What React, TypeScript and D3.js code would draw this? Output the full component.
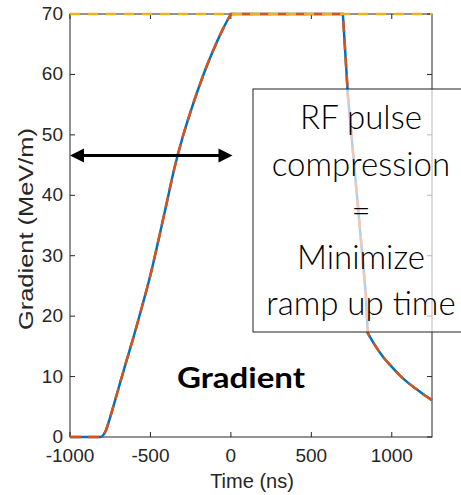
import React from "react";
import { scaleLinear, line, curveMonotoneX } from "d3";

// gradient waveform (ns, MeV/m): ramp, flat top, compressed-pulse drop, decay
const rampTime = [
  -1000, -950, -900, -850, -810, -780, -750, -700, -650, -600, -550, -500,
  -450, -400, -350, -300, -250, -200, -150, -100, -50, 0,
];
const rampGradient = [
  0, 0, 0, 0, 0, 0.9, 3.3, 7.9, 12.5, 17.0, 21.8, 26.8,
  32.6, 38.6, 44.6, 49.6, 53.9, 57.8, 61.4, 64.6, 67.5, 70,
];
const flatTime = [0, 696, 728, 780, 838, 851];
const flatGradient = [70, 70, 56.3, 41, 23.8, 17.2];
const decayTime = [851, 900, 950, 1000, 1050, 1100, 1150, 1200, 1250];
const decayGradient = [17.2, 15.0, 13.1, 11.6, 10.2, 9.0, 8.0, 7.0, 6.1];

const maxGradient = 70;
const xTicks = [-1000, -500, 0, 500, 1000];
const yTicks = [0, 10, 20, 30, 40, 50, 60, 70];
const arrowSpan = [-1000, 10];
const arrowLevel = 46.6;
const boxLines = ["RF pulse", "compression", "=", "Minimize", "ramp up time"];

const W = 461;
const H = 495;
const m = { left: 70, right: 432, top: 14, bottom: 437 };
const axisFont = "'Liberation Sans', Arial, Helvetica, sans-serif";
const noteFont = "Lato, 'Open Sans', sans-serif";
const axisColor = "#262626";

export default function App() {
  const x = scaleLinear().domain([-1000, 1250]).range([m.left, m.right]);
  const y = scaleLinear().domain([0, 70]).range([m.bottom, m.top]);

  const smooth = line<[number, number]>()
    .x((d) => x(d[0]))
    .y((d) => y(d[1]))
    .curve(curveMonotoneX);
  const straight = line<[number, number]>()
    .x((d) => x(d[0]))
    .y((d) => y(d[1]));

  const zip = (ts: number[], vs: number[]) => ts.map((t, i) => [t, vs[i]] as [number, number]);
  const path =
    (smooth(zip(rampTime, rampGradient)) as string) +
    (straight(zip(flatTime, flatGradient)) as string).replace(/^M/, "L") +
    (smooth(zip(decayTime, decayGradient)) as string).replace(/^M/, "L");

  const ay = y(arrowLevel);
  const ax0 = x(arrowSpan[0]);
  const ax1 = x(arrowSpan[1]);
  const head = 14;
  const hw = 7;

  const box = { x: 253, y: 89, w: 220, h: 243 };

  return (
    <div style={{ position: "fixed", left: 0, top: 0 }}>
      <svg width={W} height={H} style={{ display: "block", background: "#fff" }}>
        {/* axes box */}
        <rect x={m.left} y={m.top} width={m.right - m.left} height={m.bottom - m.top}
          fill="none" stroke={axisColor} strokeWidth={1} />
        {xTicks.map((t) => (
          <g key={"x" + t}>
            <line x1={x(t)} x2={x(t)} y1={m.bottom} y2={m.bottom - 5} stroke={axisColor} />
            <line x1={x(t)} x2={x(t)} y1={m.top} y2={m.top + 5} stroke={axisColor} />
            <text x={x(t)} y={m.bottom + 25} textAnchor="middle" fontFamily={axisFont}
              fontSize={19} fill={axisColor}>{t}</text>
          </g>
        ))}
        {yTicks.map((v) => (
          <g key={"y" + v}>
            <line x1={m.left} x2={m.left + 5} y1={y(v)} y2={y(v)} stroke={axisColor} />
            <line x1={m.right} x2={m.right - 5} y1={y(v)} y2={y(v)} stroke={axisColor} />
            <text x={m.left - 7} y={y(v) + 6} textAnchor="end" fontFamily={axisFont}
              fontSize={19} fill={axisColor}>{v}</text>
          </g>
        ))}
        <text x={252} y={488} textAnchor="middle" fontFamily={axisFont} fontSize={20}
          fill={axisColor}>Time (ns)</text>
        <text transform="translate(33,229) rotate(-90)" textAnchor="middle" fontFamily={axisFont}
          fontSize={20} fill={axisColor} textLength={202} lengthAdjust="spacingAndGlyphs">
          Gradient (MeV/m)
        </text>

        {/* curves */}
        <path d={path} fill="none" stroke="#0072BD" strokeWidth={2.5} />
        <path d={path} fill="none" stroke="#D95319" strokeWidth={2.5} strokeDasharray="11,7" />
        <line x1={x(-1000)} x2={x(1250)} y1={y(maxGradient)} y2={y(maxGradient)}
          stroke="#EDB120" strokeWidth={2.5} strokeDasharray="10,8" />

        {/* double arrow */}
        <line x1={ax0 + head - 2} x2={ax1 - head + 2} y1={ay} y2={ay} stroke="#000" strokeWidth={3} />
        <polygon points={`${ax0},${ay} ${ax0 + head},${ay - hw} ${ax0 + head},${ay + hw}`} fill="#000" />
        <polygon points={`${ax1},${ay} ${ax1 - head},${ay - hw} ${ax1 - head},${ay + hw}`} fill="#000" />

        <text x={241} y={388} textAnchor="middle" fontFamily={noteFont} fontWeight={700}
          fontSize={29} fill="#000" textLength={128} lengthAdjust="spacingAndGlyphs">Gradient</text>

        {/* annotation box */}
        <rect x={box.x} y={box.y} width={box.w} height={box.h} fill="#fff" fillOpacity={0.68}
          stroke="#222" strokeWidth={1} />
        {boxLines.map((s, i) => (
          <text key={s} x={361} y={129 + i * 46.5} textAnchor="middle" fontFamily={noteFont}
            fontWeight={300} fontSize={33} fill="#000">{s}</text>
        ))}
      </svg>
    </div>
  );
}
